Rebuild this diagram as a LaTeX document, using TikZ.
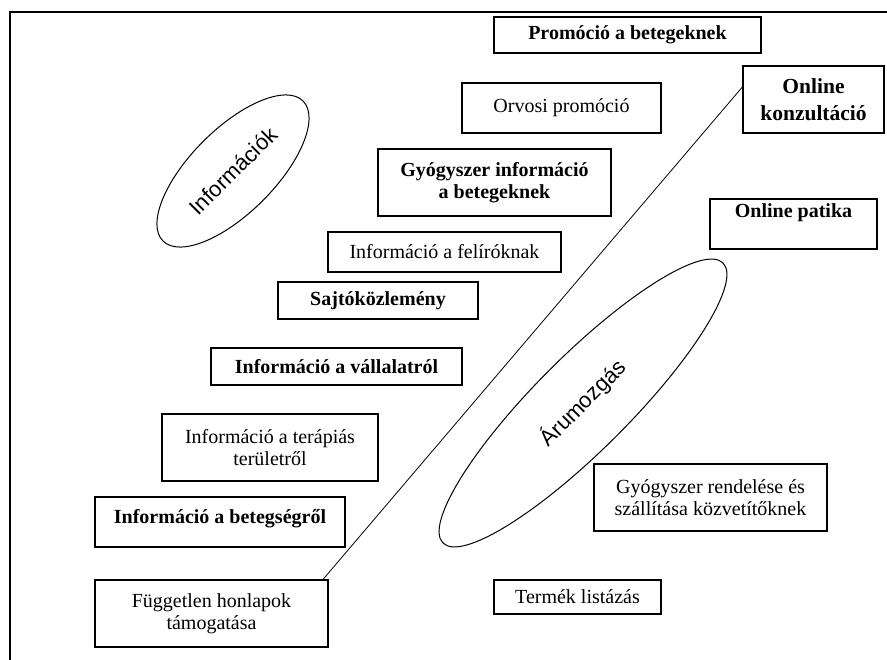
\documentclass[tikz,border=0pt]{standalone}
\usepackage{fontspec}
\setmainfont{Liberation Serif}
\newfontfamily\arialfont{Liberation Sans}
\usetikzlibrary{shapes.geometric}

\begin{document}
\begin{tikzpicture}[x=1pt,y=-1pt,
  box/.style={draw,line width=1.2pt,align=center,inner sep=0pt,font=\fontsize{20}{22.5}\selectfont},
  boldbox/.style={box,font=\fontsize{20}{22.5}\selectfont\bfseries},
  oval/.style={draw,ellipse,line width=1pt,inner sep=0pt,rotate=45,font=\arialfont\fontsize{22}{26}\selectfont}]
\useasboundingbox (0,0) rectangle (887,660);
\draw[line width=1.8pt] (10,660) -- (10,12) -- (887,12);% Frame

% Upper left group
\node[boldbox,minimum width=267,minimum height=36] (promo) at (627.5,35) {Promóció a betegeknek};
\node[box,minimum width=199,minimum height=50] (orvosi) at (561.5,108) {Orvosi promóció};
\node[boldbox,minimum width=233,minimum height=67] (gyinf) at (494.5,182.5) {Gyógyszer információ\\a betegeknek};
\node[box,minimum width=233,minimum height=40] (felir) at (444.5,252) {Információ a felíróknak};
\node[boldbox,minimum width=200,minimum height=37] (sajto) at (378,300.5) {Sajtóközlemény};
\node[boldbox,minimum width=251,minimum height=37] (vallalat) at (336.5,366.5) {Információ a vállalatról};
\node[box,minimum width=216,minimum height=67] (terapia) at (270,447.5) {Információ a terápiás\\területről};
\node[boldbox,minimum width=250,minimum height=50,text height=15pt,text depth=13pt] (betegseg) at (220,522) {Információ a betegségről};
\node[box,minimum width=233,minimum height=67] (fugg) at (211.5,613.5) {Független honlapok\\támogatása};

% Right group
\node[boldbox,minimum width=141,minimum height=67,font=\fontsize{21.5}{27}\selectfont\bfseries] (konz) at (813.5,99.5) {Online\\konzultáció};
\node[boldbox,minimum width=167,minimum height=50,text height=15pt,text depth=27pt] (patika) at (793.5,224) {Online patika};
\node[box,minimum width=233,minimum height=67] (rendel) at (710.5,497.5) {Gyógyszer rendelése és\\szállítása közvetítőknek};
\node[box,minimum width=167,minimum height=34] (termek) at (577.5,597) {Termék listázás};

% Groups
\node[oval,minimum width=198,minimum height=84] (info) at (233,171) {Információk};
\node[oval,minimum width=396,minimum height=94] (aru) at (583,403) {Árumozgás};

\draw[line width=0.8pt] (fugg.17.3) -- (konz.170);% Divider
\end{tikzpicture}
\end{document}
